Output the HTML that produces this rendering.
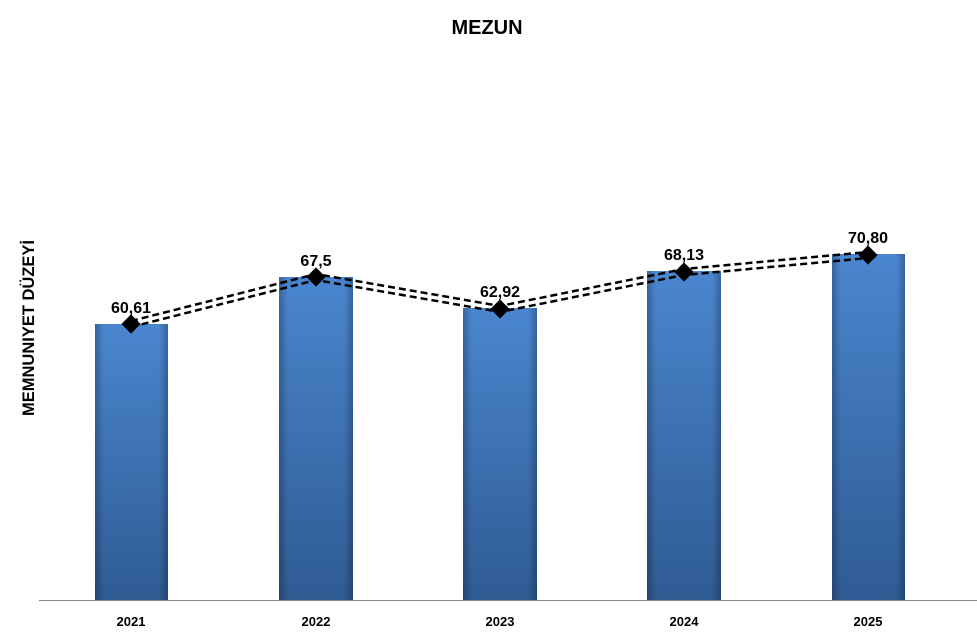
<!DOCTYPE html>
<html><head><style>
body{margin:0;background:#fff;}
svg{display:block;font-family:"Liberation Sans",Arial,sans-serif;}
</style></head><body>
<svg width="977" height="639" viewBox="0 0 977 639">
<defs>
<linearGradient id="v" x1="0" y1="0" x2="0" y2="1">
<stop offset="0" stop-color="#4a86cf"/><stop offset="1" stop-color="#2f5b93"/>
</linearGradient>
<linearGradient id="h" x1="0" y1="0" x2="1" y2="0">
<stop offset="0" stop-color="#000" stop-opacity="0.25"/>
<stop offset="0.12" stop-color="#000" stop-opacity="0"/>
<stop offset="0.88" stop-color="#000" stop-opacity="0"/>
<stop offset="1" stop-color="#000" stop-opacity="0.25"/>
</linearGradient>
</defs>
<text x="487" y="34" text-anchor="middle" font-size="20" font-weight="bold">MEZUN</text>
<text transform="translate(34,328) rotate(-90)" text-anchor="middle" font-size="16.5" font-weight="bold">MEMNUNIYET DÜZEYİ</text>
<g>
<rect x="95" y="324" width="73" height="276" fill="url(#v)"/><rect x="95" y="324" width="73" height="276" fill="url(#h)"/>
<rect x="279" y="277" width="74" height="323" fill="url(#v)"/><rect x="279" y="277" width="74" height="323" fill="url(#h)"/>
<rect x="463" y="308" width="74" height="292" fill="url(#v)"/><rect x="463" y="308" width="74" height="292" fill="url(#h)"/>
<rect x="647" y="271" width="74" height="329" fill="url(#v)"/><rect x="647" y="271" width="74" height="329" fill="url(#h)"/>
<rect x="832" y="254" width="73" height="346" fill="url(#v)"/><rect x="832" y="254" width="73" height="346" fill="url(#h)"/>
</g>
<line x1="39" y1="600.5" x2="977" y2="600.5" stroke="#888" stroke-width="1"/>
<g fill="none" stroke="#000" stroke-width="2.5" stroke-dasharray="7,4">
<polyline points="131,321 316,274 500,306 684,269 868,252"/>
<polyline points="131,327 316,280 500,312 684,275 868,258"/>
</g>
<g fill="#000">
<rect x="-8" y="-8" width="16" height="16" transform="translate(131,324) rotate(45) scale(0.85)"/>
<rect x="-8" y="-8" width="16" height="16" transform="translate(316,277) rotate(45) scale(0.85)"/>
<rect x="-8" y="-8" width="16" height="16" transform="translate(500,309) rotate(45) scale(0.85)"/>
<rect x="-8" y="-8" width="16" height="16" transform="translate(684,272) rotate(45) scale(0.85)"/>
<rect x="-8" y="-8" width="16" height="16" transform="translate(868,255) rotate(45) scale(0.85)"/>
</g>
<g font-size="16" font-weight="bold" text-anchor="middle">
<text x="131" y="313">60,61</text>
<text x="316" y="266">67,5</text>
<text x="500" y="297">62,92</text>
<text x="684" y="260">68,13</text>
<text x="868" y="243">70,80</text>
</g>
<g font-size="13" font-weight="bold" text-anchor="middle">
<text x="131" y="626">2021</text>
<text x="316" y="626">2022</text>
<text x="500" y="626">2023</text>
<text x="684" y="626">2024</text>
<text x="868" y="626">2025</text>
</g>
</svg>
</body></html>
